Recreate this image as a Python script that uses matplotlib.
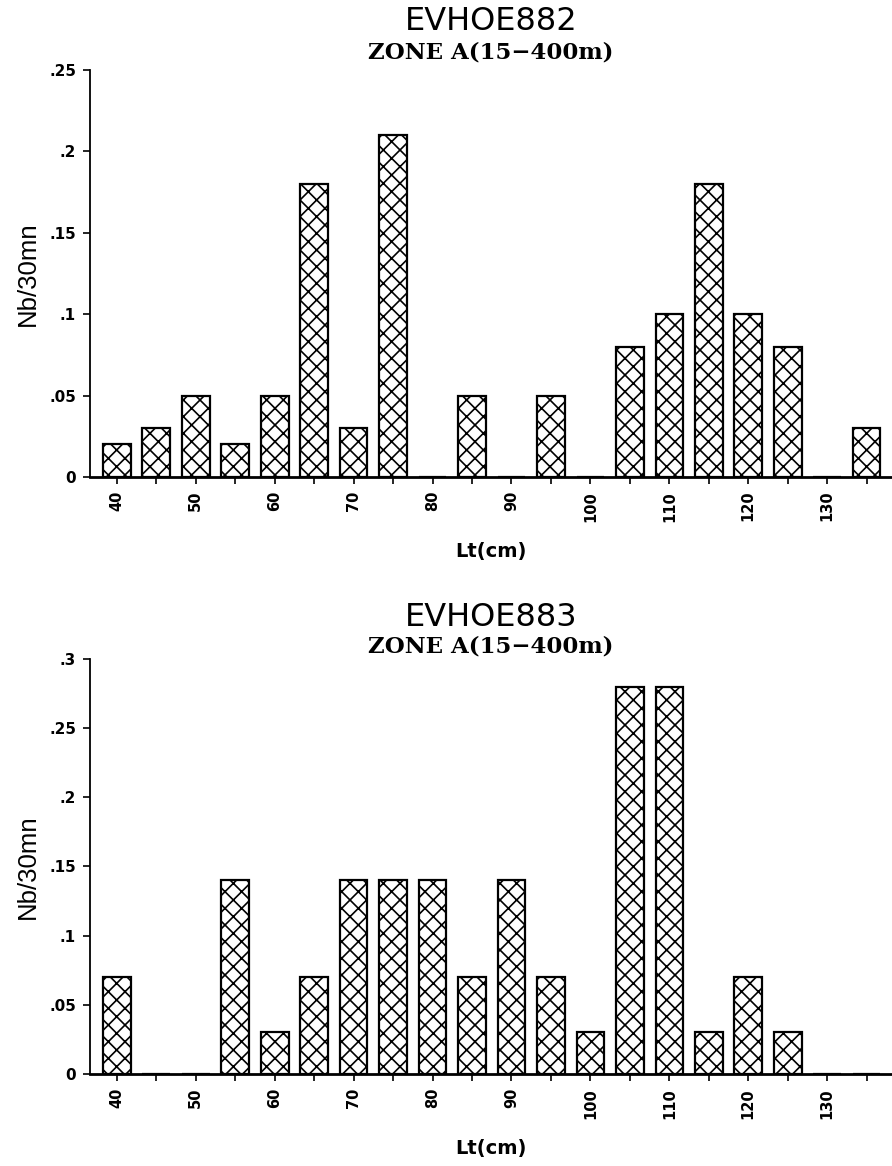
import matplotlib
matplotlib.use("Agg")
import matplotlib.pyplot as plt

plt.rcParams['hatch.linewidth'] = 1.2

lengths = [40, 45, 50, 55, 60, 65, 70, 75, 80, 85, 90, 95, 100, 105, 110, 115, 120, 125, 130, 135]
evhoe882 = [0.02, 0.03, 0.05, 0.02, 0.05, 0.18, 0.03, 0.21, 0.0, 0.05, 0.0, 0.05, 0.0, 0.08, 0.10, 0.18, 0.10, 0.08, 0.0, 0.03]
evhoe883 = [0.07, 0.0, 0.0, 0.14, 0.03, 0.07, 0.14, 0.14, 0.14, 0.07, 0.14, 0.07, 0.03, 0.28, 0.28, 0.03, 0.07, 0.03, 0.0, 0.0]

xtick_vals = [40, 50, 60, 70, 80, 90, 100, 110, 120, 130]
yticks_top = [0, 0.05, 0.1, 0.15, 0.2, 0.25]
ylabels_top = ['0', '.05', '.1', '.15', '.2', '.25']
yticks_bot = [0, 0.05, 0.1, 0.15, 0.2, 0.25, 0.3]
ylabels_bot = ['0', '.05', '.1', '.15', '.2', '.25', '.3']

titles = ['EVHOE882', 'EVHOE883']
subtitle = 'ZONE A(15\u2212400m)'

fig = plt.figure(figsize=(8.92, 11.66), dpi=100)
ax1 = fig.add_axes([0.1009, 0.591, 0.899, 0.349])
ax2 = fig.add_axes([0.1009, 0.0789, 0.899, 0.356])

tickfont = ['DejaVu Sans']

def style(ax, vals, yt, yl, ymax):
    ax.bar(lengths, vals, width=3.5, color='white', edgecolor='black',
           linewidth=1.6, hatch='xx', zorder=2)
    ax.set_xlim(36.6, 138.2)
    ax.set_ylim(0, ymax)
    ax.set_xticks(lengths, minor=True)
    ax.set_xticks(xtick_vals)
    ax.set_xticklabels([str(v) for v in xtick_vals], rotation=90,
                       fontsize=10.5, fontweight='bold', family=tickfont)
    ax.set_yticks(yt)
    ax.set_yticklabels(yl, fontsize=11, fontweight='bold', family=tickfont)
    ax.tick_params(axis='both', which='both', direction='out', width=1.2, color='black')
    ax.tick_params(axis='x', which='major', length=5, pad=5)
    ax.tick_params(axis='x', which='minor', length=5)
    ax.tick_params(axis='y', length=5, pad=5)
    for s in ['top', 'right']:
        ax.spines[s].set_visible(False)
    ax.spines['left'].set_linewidth(1.3)
    ax.spines['bottom'].set_linewidth(2.0)
    ax.set_ylabel('Nb/30mn', fontsize=18.5, family=['Liberation Sans', 'DejaVu Sans'], labelpad=7)
    ax.set_xlabel('Lt(cm)', fontsize=14, fontweight='bold', family=['DejaVu Sans'], labelpad=15)

style(ax1, evhoe882, yticks_top, ylabels_top, 0.25)
style(ax2, evhoe883, yticks_bot, ylabels_bot, 0.3)

title_y = [1 - 22 / 1166, 1 - 618 / 1166]
sub_y = [1 - 53 / 1166, 1 - 647 / 1166]
xc = 0.1009 + 0.899 / 2
for t, ty, sy in zip(titles, title_y, sub_y):
    fig.text(xc, ty, t, ha='center', va='center', fontsize=23, family='DejaVu Sans')
    fig.text(xc, sy, subtitle, ha='center', va='center', fontsize=16.5,
             family=['DejaVu Serif'], fontweight='bold')

fig.savefig('out.png', dpi=100)
